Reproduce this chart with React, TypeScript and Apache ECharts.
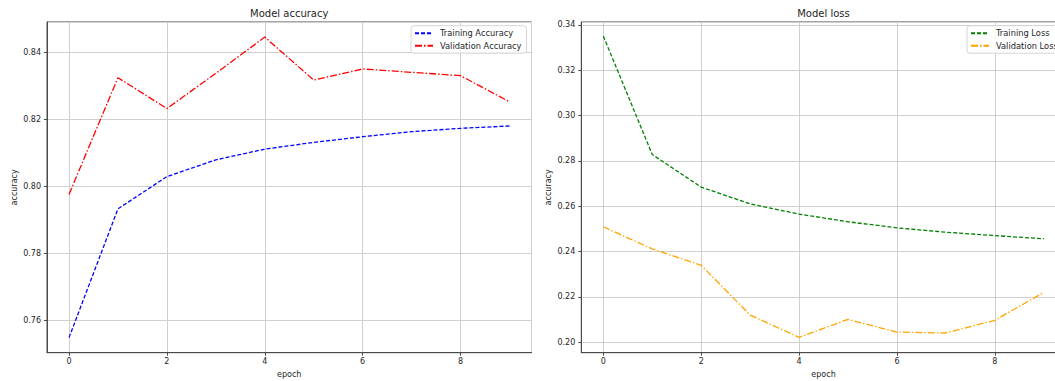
import React, { useEffect, useRef } from "react";
import * as echarts from "echarts";

const epochs = [0, 1, 2, 3, 4, 5, 6, 7, 8, 9];
const trainAcc = [0.7549, 0.7933, 0.8029, 0.8079, 0.8111, 0.8131, 0.8148, 0.8163, 0.8173, 0.818];
const valAcc = [0.7976, 0.8324, 0.8232, 0.8337, 0.8445, 0.8317, 0.835, 0.834, 0.833, 0.8252];
const trainLoss = [0.3351, 0.2828, 0.2684, 0.261, 0.2565, 0.2531, 0.2504, 0.2485, 0.247, 0.2456];
const valLoss = [0.2509, 0.2411, 0.2339, 0.2119, 0.2021, 0.21, 0.2044, 0.204, 0.2096, 0.2219];

const titles = ["Model accuracy", "Model loss"];
const xName = "epoch";
const yName = "accuracy";
const accNames = ["Training Accuracy", "Validation Accuracy"];
const lossNames = ["Training Loss", "Validation Loss"];

const FONT = "DejaVu Sans";
const TXT = "#262626";
const DASH = [4, 2];
const DASHDOT = [7, 2, 1.5, 2];

const pts = (arr: number[]) => epochs.map((e, i) => [e, arr[i]]);

export default function App() {
  const ref = useRef<HTMLDivElement>(null);
  useEffect(() => {
    if (!ref.current) return;
    const chart = echarts.init(ref.current, null, { renderer: "svg" });
    const gridBase = {
      top: 22,
      width: 484.5,
      height: 330.7,
      show: true,
      borderColor: "#4a4a4a",
      borderWidth: 1,
      backgroundColor: "transparent",
      containLabel: false,
      outerBoundsMode: "none",
    };
    const xAxisBase = (gi: number) => ({
      type: "value",
      gridIndex: gi,
      min: -0.45,
      max: 9.45,
      minInterval: 2,
      maxInterval: 2,
      name: xName,
      nameLocation: "middle",
      nameGap: 18,
      nameTextStyle: { fontFamily: FONT, fontSize: 8, color: TXT },
      axisLine: { show: true, onZero: false, lineStyle: { color: "#4a4a4a", width: 1 } },
      axisTick: { show: true, length: 3, lineStyle: { color: "#4a4a4a" } },
      axisLabel: {
        fontFamily: FONT,
        fontSize: 8,
        color: TXT,
        margin: 5,
        showMinLabel: false,
        showMaxLabel: false,
        formatter: (v: number) => String(Math.round(v)),
      },
      splitLine: { show: true, lineStyle: { color: "#cfcfcf", width: 1 } },
    });
    const yAxisBase = (gi: number, min: number, max: number) => ({
      type: "value",
      gridIndex: gi,
      min,
      max,
      minInterval: 0.02,
      maxInterval: 0.02,
      name: yName,
      nameLocation: "middle",
      nameGap: 29,
      nameRotate: 90,
      nameTextStyle: { fontFamily: FONT, fontSize: 8, color: TXT },
      axisLine: { show: true, onZero: false, lineStyle: { color: "#4a4a4a", width: 1 } },
      axisTick: { show: true, length: 3, lineStyle: { color: "#4a4a4a" } },
      axisLabel: {
        fontFamily: FONT,
        fontSize: 8,
        color: TXT,
        margin: 6,
        showMinLabel: false,
        showMaxLabel: false,
        formatter: (v: number) => v.toFixed(2),
      },
      splitLine: { show: true, lineStyle: { color: "#cfcfcf", width: 1 } },
    });
    const legendBase = {
      orient: "vertical",
      top: 25.7,
      itemWidth: 18,
      itemHeight: 8,
      itemGap: 4.5,
      padding: [3.5, 5, 3.5, 3],
      backgroundColor: "rgba(255,255,255,0.8)",
      borderColor: "#d4d4d4",
      borderWidth: 1,
      borderRadius: 3,
      selectedMode: false,
      itemStyle: { opacity: 0 },
      textStyle: { fontFamily: FONT, fontSize: 8.3, color: TXT, padding: [0, 0, 0, 2] },
    };
    const line = (name: string, data: number[], color: string, dash: number[], gi: number) => ({
      type: "line",
      name,
      xAxisIndex: gi,
      yAxisIndex: gi,
      data: pts(data),
      symbol: "none",
      itemStyle: { color },
      lineStyle: { color, width: 1.3, type: dash },
      z: 5,
    });
    chart.setOption({
      animation: false,
      backgroundColor: "#ffffff",
      title: [
        {
          text: titles[0],
          left: 289.25,
          textAlign: "center",
          top: 8,
          padding: 0,
          textStyle: { fontFamily: FONT, fontSize: 10, fontWeight: "normal", color: TXT },
        },
        {
          text: titles[1],
          left: 823.5,
          textAlign: "center",
          top: 8,
          padding: 0,
          textStyle: { fontFamily: FONT, fontSize: 10, fontWeight: "normal", color: TXT },
        },
      ],
      grid: [
        { ...gridBase, left: 47 },
        { ...gridBase, left: 581.3 },
      ],
      xAxis: [xAxisBase(0), xAxisBase(1)],
      yAxis: [yAxisBase(0, 0.7504, 0.849), yAxisBase(1, 0.1953, 0.3413)],
      legend: [
        { ...legendBase, left: 411, data: accNames },
        { ...legendBase, left: 967, data: lossNames },
      ],
      series: [
        line(accNames[0], trainAcc, "#0000ff", DASH, 0),
        line(accNames[1], valAcc, "#ff0000", DASHDOT, 0),
        line(lossNames[0], trainLoss, "#008000", DASH, 1),
        line(lossNames[1], valLoss, "#ffa500", DASHDOT, 1),
      ],
    });
    return () => chart.dispose();
  }, []);
  return (
    <div
      ref={ref}
      style={{ position: "fixed", left: 0, top: 0, width: 1055, height: 381, overflow: "hidden" }}
    />
  );
}
